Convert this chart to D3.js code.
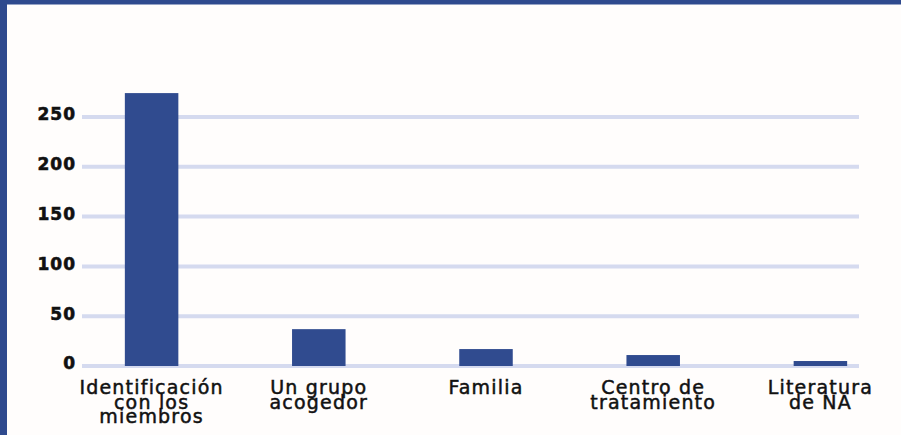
<!DOCTYPE html>
<html>
<head>
<meta charset="utf-8">
<script src="https://cdn.jsdelivr.net/npm/d3@7"></script>
<style>
  html, body { margin: 0; padding: 0; background: #fffdfc; }
  svg { display: block; }
</style>
</head>
<body>
<svg id="chart" width="901" height="435"></svg>
<script>
// ---- data ----
const categories = ["Identificación con los miembros", "Un grupo acogedor", "Familia", "Centro de tratamiento", "Literatura de NA"];
const categoryLines = [["Identificación", "con los", "miembros"], ["Un grupo", "acogedor"], ["Familia"], ["Centro de", "tratamiento"], ["Literatura", "de NA"]];
const values = [274, 37, 17, 11, 5];
const yTicks = [0, 50, 100, 150, 200, 250];

// ---- layout ----
const W = 901, H = 435;
const svg = d3.select("#chart");

svg.append("rect").attr("x", 0).attr("y", 0).attr("width", W).attr("height", H).attr("fill", "#fffdfc");
// frame (left and top)
svg.append("rect").attr("x", 0).attr("y", 0).attr("width", 7).attr("height", H).attr("fill", "#2f4a8e");
svg.append("rect").attr("x", 0).attr("y", 0).attr("width", W).attr("height", 4.5).attr("fill", "#2f4a8e");

const x = d3.scaleBand().domain(categories).range([68, 904]).paddingInner(0.68).paddingOuter(0.34);
const y = d3.scaleLinear().domain([0, 250]).range([366, 117]);

const gridX0 = 82, gridX1 = 859;

// gridlines
svg.append("g").selectAll("line").data(yTicks).join("line")
  .attr("x1", gridX0).attr("x2", gridX1)
  .attr("y1", d => y(d)).attr("y2", d => y(d))
  .attr("stroke", "#d5daef").attr("stroke-width", 4);

// y tick labels
const yAxis = d3.axisLeft(y).tickValues(yTicks).tickSize(0).tickPadding(0);
const gy = svg.append("g").attr("transform", "translate(76,0)").call(yAxis);
gy.select(".domain").remove();
gy.selectAll("text")
  .attr("font-family", "'DejaVu Sans', sans-serif")
  .attr("font-weight", "bold")
  .attr("font-size", 17)
  .attr("letter-spacing", 1)
  .attr("fill", "#111")
  .attr("stroke", "#111")
  .attr("stroke-width", 0.6)
  .attr("dy", "0.32em")
  .attr("y", -2.5);

// bars
svg.append("g").selectAll("rect").data(values).join("rect")
  .attr("x", (d, i) => x(categories[i]))
  .attr("width", x.bandwidth())
  .attr("y", d => y(d))
  .attr("height", d => y(0) - y(d))
  .attr("fill", "#304b8f");

// x labels
const lab = svg.append("g").selectAll("text").data(categories).join("text")
  .attr("text-anchor", "middle")
  .attr("font-family", "'DejaVu Sans', sans-serif")
  .attr("font-size", 19)
  .attr("letter-spacing", 1.2)
  .attr("fill", "#111")
  .attr("stroke", "#111")
  .attr("stroke-width", 0.5)
  .attr("transform", d => `translate(${x(d) + x.bandwidth() / 2},394)`);
lab.each(function(d, i) {
  d3.select(this).selectAll("tspan").data(categoryLines[i]).join("tspan")
    .attr("x", 0).attr("y", (t, j) => j * 14.5).text(t => t);
});
</script>
</body>
</html>
